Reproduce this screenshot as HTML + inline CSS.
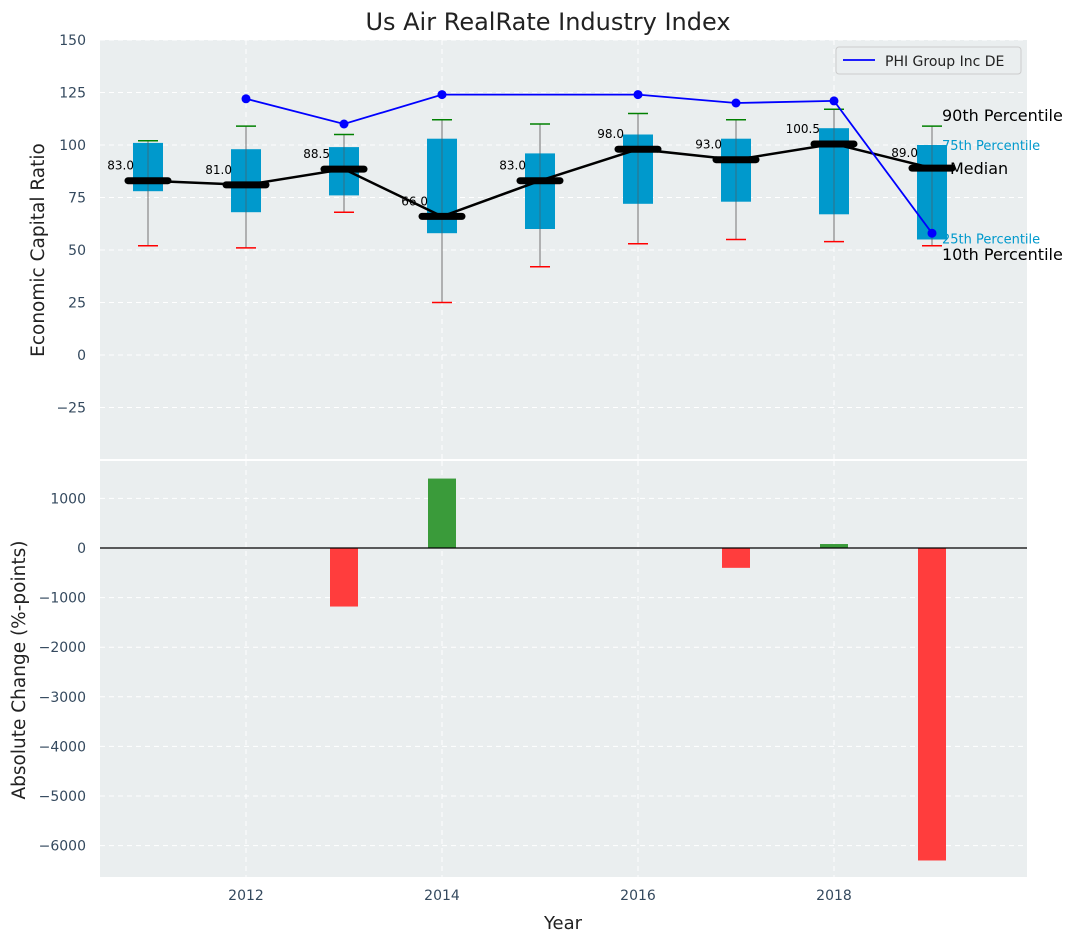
<!DOCTYPE html>
<html><head><meta charset="utf-8"><style>
body{margin:0;background:#fff;font-family:"Liberation Sans","DejaVu Sans",sans-serif;}
</style></head><body>
<svg id="c" width="1077" height="942" xmlns="http://www.w3.org/2000/svg" font-family="DejaVu Sans, Liberation Sans, sans-serif"></svg>
<script>
const years=[2011,2012,2013,2014,2015,2016,2017,2018,2019];
const p10=[52,51,68,25,42,53,55,54,52];
const q1=[78,68,76,58,60,72,73,67,55];
const median=[83,81,88.5,66,83,98,93,100.5,89];
const q3=[101,98,99,103,96,105,103,108,100];
const p90=[102,109,105,112,110,115,112,117,109];
const lineYears=[2012,2013,2014,2016,2017,2018,2019];
const lineVals=[122,110,124,124,120,121,58];
const barYears=[2013,2014,2017,2018,2019];
const barVals=[-1180,1400,-400,80,-6300];
const topTicks=[-25,0,25,50,75,100,125,150];
const botTicks=[-6000,-5000,-4000,-3000,-2000,-1000,0,1000];
const xTicks=[2012,2014,2016,2018];

const svg=document.getElementById('c');const NS='http://www.w3.org/2000/svg';
function el(t,a,txt){const e=document.createElementNS(NS,t);for(const k in a)e.setAttribute(k,a[k]);if(txt!==undefined)e.textContent=txt;svg.appendChild(e);return e;}
const L=100,R=1027,T1=40,B1=459,T2=461,B2=877;
const X=v=>148+(v-2011)*98;
const Y1=v=>355-v*2.1;
const Y2=v=>548-v*0.0496;

let e;
e=el('rect',{x:L,y:T1,width:R-L,height:B1-T1,fill:'#eaeeef'});

e=el('rect',{x:L,y:T2,width:R-L,height:B2-T2,fill:'#eaeeef'});

for(const t of topTicks){el('line',{x1:L,x2:R,y1:Y1(t),y2:Y1(t),stroke:'#fff','stroke-dasharray':'5,4','stroke-width':1});
 e=el('text',{x:86,y:Y1(t)+5,'text-anchor':'end','font-size':14,fill:'#34495e'},t===-25?'\u221225':t);
 }
for(const t of botTicks){el('line',{x1:L,x2:R,y1:Y2(t),y2:Y2(t),stroke:'#fff','stroke-dasharray':'5,4','stroke-width':1});
 e=el('text',{x:86,y:Y2(t)+5,'text-anchor':'end','font-size':14,fill:'#34495e'},t<0?'\u2212'+(-t):t);
 }
for(const t of xTicks){el('line',{x1:X(t),x2:X(t),y1:T1,y2:B1,stroke:'#fff','stroke-dasharray':'5,4'});
 el('line',{x1:X(t),x2:X(t),y1:T2,y2:B2,stroke:'#fff','stroke-dasharray':'5,4'});
 e=el('text',{x:X(t),y:900,'text-anchor':'middle','font-size':14,fill:'#34495e'},t);
 }
years.forEach((y,i)=>{const x=X(y);
 e=el('line',{x1:x,x2:x,y1:Y1(p10[i]),y2:Y1(p90[i]),stroke:'#888','stroke-width':1.2});
 
 e=el('rect',{x:x-15,y:Y1(q3[i]),width:30,height:Y1(q1[i])-Y1(q3[i]),fill:'#0099cc'});
 
 el('line',{x1:x,x2:x,y1:Y1(q3[i]),y2:Y1(q1[i]),stroke:'#555','stroke-opacity':0.6,'stroke-width':1});
 el('line',{x1:x-10,x2:x+10,y1:Y1(p90[i]),y2:Y1(p90[i]),stroke:'green','stroke-width':1.5});
 el('line',{x1:x-10,x2:x+10,y1:Y1(p10[i]),y2:Y1(p10[i]),stroke:'red','stroke-width':1.5});
});
e=el('polyline',{points:years.map((y,i)=>X(y)+','+Y1(median[i])).join(' '),fill:'none',stroke:'#000','stroke-width':2.5});

years.forEach((y,i)=>{const x=X(y);
 e=el('line',{x1:x-20,x2:x+20,y1:Y1(median[i]),y2:Y1(median[i]),stroke:'#000','stroke-width':7,'stroke-linecap':'round'});
 
 e=el('text',{x:x-14,y:Y1(median[i])-11,'text-anchor':'end','font-size':12,fill:'#000'},median[i].toFixed(1));
 
});
e=el('polyline',{points:lineYears.map((y,i)=>X(y)+','+Y1(lineVals[i])).join(' '),fill:'none',stroke:'blue','stroke-width':1.8});

lineYears.forEach((y,i)=>{e=el('circle',{cx:X(y),cy:Y1(lineVals[i]),r:4.5,fill:'blue'});
 });
const lx=X(2019)+10,li=8;
el('text',{x:lx,y:Y1(p90[li])-5,'font-size':16,fill:'#000'},'90th Percentile');
el('text',{x:lx,y:Y1(q3[li])+5,'font-size':13,fill:'#0099cc'},'75th Percentile');
el('text',{x:lx+8,y:Y1(median[li])+6,'font-size':16,fill:'#000'},'Median');
el('text',{x:lx,y:Y1(q1[li])+4,'font-size':13,fill:'#0099cc'},'25th Percentile');
el('text',{x:lx,y:Y1(p10[li])+14,'font-size':16,fill:'#000'},'10th Percentile');
barYears.forEach((y,i)=>{const v=barVals[i];const y0=Y2(0),y1=Y2(v);
 e=el('rect',{x:X(y)-14,y:Math.min(y0,y1),width:28,height:Math.abs(y1-y0),fill:v>=0?'#3a9b3a':'#ff3d3d'});
 });
el('line',{x1:L,x2:R,y1:Y2(0),y2:Y2(0),stroke:'#000','stroke-width':1.3});
e=el('rect',{x:836,y:47,width:185,height:27,rx:3,fill:'#eaeeef',stroke:'#ccc'});

el('line',{x1:843,x2:875,y1:60,y2:60,stroke:'blue','stroke-width':1.8});
el('text',{x:885,y:66,'font-size':14,fill:'#222'},'PHI Group Inc DE');
el('text',{x:548,y:30,'text-anchor':'middle','font-size':24,fill:'#222'},'Us Air RealRate Industry Index');
el('text',{x:563,y:929,'text-anchor':'middle','font-size':18,fill:'#222'},'Year');
el('text',{x:0,y:0,transform:'translate(44,250) rotate(-90)','text-anchor':'middle','font-size':18.5,fill:'#222'},'Economic Capital Ratio');
el('text',{x:0,y:0,transform:'translate(25,670) rotate(-90)','text-anchor':'middle','font-size':18.5,fill:'#222'},'Absolute Change (%-points)');
</script>
</body></html>
